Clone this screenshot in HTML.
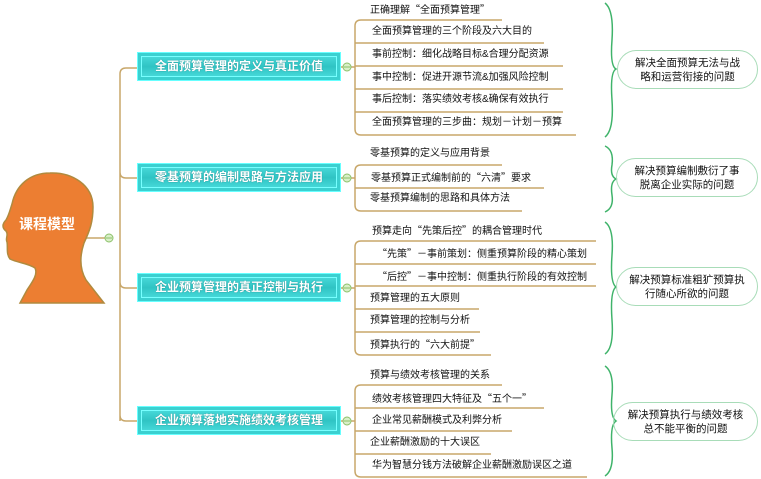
<!DOCTYPE html>
<html><head><meta charset="utf-8"><style>
body{margin:0;width:761px;height:479px;background:#fff;overflow:hidden;position:relative;font-family:"Liberation Sans","Noto Sans CJK SC",sans-serif}
.box{position:absolute;left:137px;width:202px;height:27px;background:linear-gradient(#4ee0e0,#2fc4c4 50%,#4ee0e0);border:1px solid #6ff;box-shadow:inset 0 0 0 3px #3bd0d0,inset 0 0 0 4px #7ff;color:#fff;font-weight:bold;font-size:12px;line-height:27px;text-align:center;text-shadow:0 0 1px #277}
.t{position:absolute;font-size:10px;color:#111;white-space:nowrap;line-height:12px}
.q{font-family:"Noto Sans CJK SC",sans-serif}
.ov{position:absolute;border:1.5px solid #a8dcb8;border-radius:22px;font-size:10.5px;text-align:center;line-height:14px;color:#111;display:flex;align-items:center;justify-content:center}
</style></head><body>
<svg width="761" height="479" style="position:absolute;left:0;top:0">
<g fill="none" stroke="#c8a76a" stroke-width="1.5">
<path d="M82 238H109M120 421V74Q120 68 126 68H137M120 172Q120 178 126 178H137M120 282Q120 288 126 288H137M120 415Q120 421 126 421H137"/>
<path d="M341 67H355M341 178H355M341 288H355M341 421H355"/>
<path d="M502 20H361Q355 20 355 26V129Q355 135 361 135H576M355 43H544M355 66H563M355 89H563M355 112H563"/>
<path d="M502 165H361Q355 165 355 171V205Q355 211 361 211H522M355 188H544"/>
<path d="M596 241H361Q355 241 355 247V349Q355 355 361 355H491M355 264H596M355 286H596M355 309H479M355 332H480"/>
<path d="M502 385H361Q355 385 355 391V471Q355 477 361 477H587M355 408H544M355 431H512M355 454H491"/>
</g>
<path d="M50 173C72 172 93 185 93 207C93 222 90 230 84 243C80 255 79 268 86 280L104 303H20L27 290C33 281 38 274 35 268C28 263 18 263 10 259C6 254 8 247 7 242C5 238 9 235 6 231C2 228 2 224 6 220C9 215 10 210 12 204C16 185 30 173 50 173Z" fill="#ec7e32" stroke="#b08a3e" stroke-width="1.5"/>
<g fill="#d9efc8" stroke="#8cc06a" stroke-width="1"><circle cx="109" cy="238" r="4"/><circle cx="347" cy="67" r="4"/><circle cx="347" cy="178" r="4"/><circle cx="347" cy="288" r="4"/><circle cx="347" cy="421" r="4"/></g>
<g stroke="#8cc06a" stroke-width="1"><path d="M106 238h6M344 67h6M344 178h6M344 288h6M344 421h6"/></g>
<g fill="none" stroke="#3fb36a" stroke-width="1.5">
<path d="M605 3Q614 10 612 40Q610 66 616 69Q610 72 612 100Q614 130 605 137"/>
<path d="M605 146Q614 150 612 165Q610 176 616 179Q610 182 612 195Q614 208 605 212"/>
<path d="M605 222Q614 228 612 255Q610 283 616 287Q610 291 612 320Q614 348 605 354"/>
<path d="M605 366Q614 372 612 395Q610 417 616 421Q610 425 612 448Q614 470 605 476"/>
</g>
</svg>
<div style="position:absolute;left:19px;top:214px;color:#fff;font-weight:bold;font-size:14px">课程模型</div>
<div class="box" style="top:52px">全面预算管理的定义与真正价值</div>
<div class="box" style="top:163px">零基预算的编制思路与方法应用</div>
<div class="box" style="top:273px">企业预算管理的真正控制与执行</div>
<div class="box" style="top:406px">企业预算落地实施绩效考核管理</div>
<div class="t" style="left:370px;top:3px">正确理解<span class="q">“</span>全面预算管理<span class="q">”</span></div>
<div class="t" style="left:372px;top:26px">全面预算管理的三个阶段及六大目的</div>
<div class="t" style="left:372px;top:49px">事前控制：细化战略目标&amp;合理分配资源</div>
<div class="t" style="left:372px;top:72px">事中控制：促进开源节流&amp;加强风险控制</div>
<div class="t" style="left:372px;top:94px">事后控制：落实绩效考核&amp;确保有效执行</div>
<div class="t" style="left:372px;top:117px">全面预算管理的三步曲：规划－计划－预算</div>
<div class="t" style="left:370px;top:148px">零基预算的定义与应用背景</div>
<div class="t" style="left:371px;top:171px">零基预算正式编制前的<span class="q">“</span>六清<span class="q">”</span>要求</div>
<div class="t" style="left:370px;top:193px">零基预算编制的思路和具体方法</div>
<div class="t" style="left:372px;top:224px">预算走向<span class="q">“</span>先策后控<span class="q">”</span>的耦合管理时代</div>
<div class="t" style="left:377px;top:247px"><span class="q">“</span>先策<span class="q">”</span>－事前策划：侧重预算阶段的精心策划</div>
<div class="t" style="left:377px;top:270px"><span class="q">“</span>后控<span class="q">”</span>－事中控制：侧重执行阶段的有效控制</div>
<div class="t" style="left:370px;top:293px">预算管理的五大原则</div>
<div class="t" style="left:370px;top:315px">预算管理的控制与分析</div>
<div class="t" style="left:370px;top:338px">预算执行的<span class="q">“</span>六大前提<span class="q">”</span></div>
<div class="t" style="left:370px;top:370px">预算与绩效考核管理的关系</div>
<div class="t" style="left:372px;top:392px">绩效考核管理四大特征及<span class="q">“</span>五个一<span class="q">”</span></div>
<div class="t" style="left:372px;top:415px">企业常见薪酬模式及利弊分析</div>
<div class="t" style="left:370px;top:437px">企业薪酬激励的十大误区</div>
<div class="t" style="left:372px;top:460px">华为智慧分钱方法破解企业薪酬激励误区之道</div>
<div class="ov" style="left:617px;top:50px;width:139px;height:37px">解决全面预算无法与战<br>略和运营衔接的问题</div>
<div class="ov" style="left:616px;top:158px;width:140px;height:37px">解决预算编制敷衍了事<br>脱离企业实际的问题</div>
<div class="ov" style="left:616px;top:267px;width:140px;height:37px">解决预算标准粗犷预算执<br>行随心所欲的问题</div>
<div class="ov" style="left:613px;top:402px;width:143px;height:37px">解决预算执行与绩效考核<br>总不能平衡的问题</div>
</body></html>
